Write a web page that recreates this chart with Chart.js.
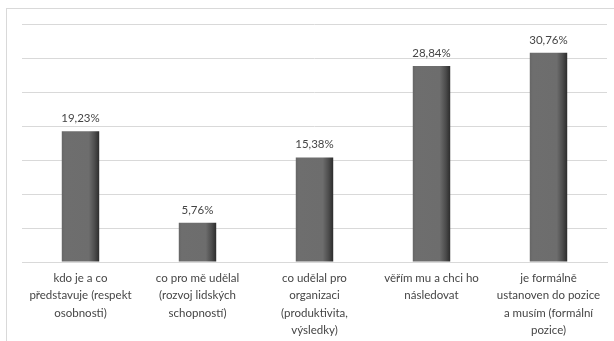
<!DOCTYPE html>
<html lang="cs">
<head>
<meta charset="UTF-8" />
<title>Bar chart</title>
<script src="https://cdn.jsdelivr.net/npm/chart.js"></script>
<style>
  html, body { margin: 0; padding: 0; background: #fff; overflow: hidden; }
  .frame { position: absolute; left: 6px; top: 8px; width: 700px; height: 400px; border: 1px solid #d9d9d9; }
  .wrap { position: absolute; left: 0; top: 0; width: 614px; height: 341px; }
</style>
</head>
<body>
<div class="frame"></div>
<div class="wrap"><canvas id="chart"></canvas></div>
<script>
  // data
  const categories = [
    ["kdo je a co", "představuje (respekt", "osobnosti)"],
    ["co pro mě udělal", "(rozvoj lidských", "schopností)"],
    ["co udělal pro", "organizaci", "(produktivita,", "výsledky)"],
    ["věřím mu a chci ho", "následovat"],
    ["je formálně", "ustanoven do pozice", "a musím (formální", "pozice)"]
  ];
  const values = [19.23, 5.76, 15.38, 28.84, 30.76];
  const valueLabels = ["19,23%", "5,76%", "15,38%", "28,84%", "30,76%"];

  const textColor = "#454545";
  const fontFamily = "Lato, 'Liberation Sans', sans-serif";

  function barFill(context) {
    const chart = context.chart;
    const xs = chart.scales.x;
    if (!chart.chartArea || !xs) return "#6d6d6d";
    const cx = xs.getPixelForValue(context.dataIndex);
    const w = (chart.chartArea.width / categories.length) * 0.32;
    const g = chart.ctx.createLinearGradient(cx - w / 2, 0, cx + w / 2, 0);
    g.addColorStop(0, "#666666");
    g.addColorStop(0.08, "#6e6e6e");
    g.addColorStop(0.72, "#6d6d6d");
    g.addColorStop(0.88, "#4c4c4c");
    g.addColorStop(1, "#2c2c2c");
    return g;
  }

  const valueLabelPlugin = {
    id: "valueLabels",
    afterDatasetsDraw(chart) {
      const ctx = chart.ctx;
      const meta = chart.getDatasetMeta(0);
      ctx.save();
      ctx.fillStyle = textColor;
      ctx.font = "11.5px " + fontFamily;
      ctx.textAlign = "center";
      ctx.textBaseline = "middle";
      meta.data.forEach((bar, i) => {
        ctx.fillText(valueLabels[i], bar.x, bar.y - 13);
      });
      ctx.restore();
    }
  };

  new Chart(document.getElementById("chart"), {
    type: "bar",
    data: {
      labels: categories,
      datasets: [{
        data: values,
        backgroundColor: barFill,
        borderWidth: 0,
        categoryPercentage: 1,
        barPercentage: 0.32
      }]
    },
    options: {
      responsive: true,
      maintainAspectRatio: false,
      animation: false,
      layout: { padding: { left: 22, right: 7, top: 24, bottom: 0 } },
      plugins: { legend: { display: false }, tooltip: { enabled: false } },
      scales: {
        y: {
          min: 0,
          max: 35,
          ticks: { stepSize: 5, display: false },
          grid: { color: "#d9d9d9", lineWidth: 1, drawTicks: false },
          border: { display: false }
        },
        x: {
          grid: { display: false, drawTicks: false },
          border: { display: true, color: "#d9d9d9" },
          ticks: {
            color: textColor,
            font: { family: fontFamily, size: 11.5, lineHeight: 1.53 },
            padding: 7,
            maxRotation: 0,
            autoSkip: false
          },
          afterFit(scale) { scale.height = 79; }
        }
      }
    },
    plugins: [valueLabelPlugin]
  });
</script>
</body>
</html>
